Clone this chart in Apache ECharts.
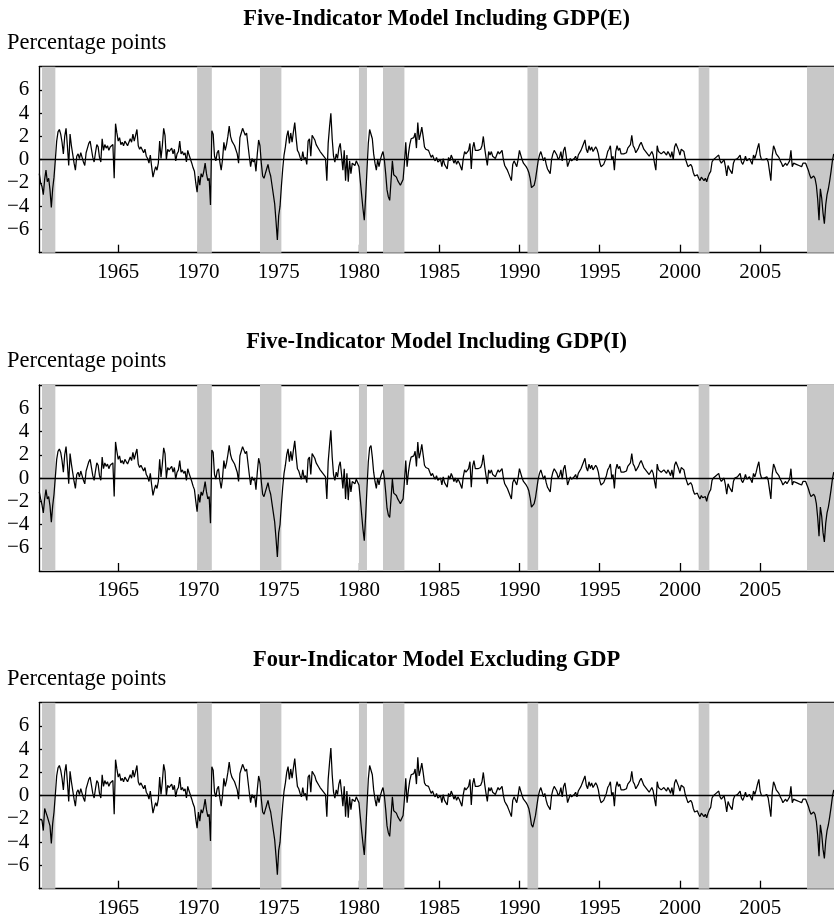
<!DOCTYPE html>
<html><head><meta charset="utf-8">
<script src="https://cdn.jsdelivr.net/npm/echarts@6/dist/echarts.min.js"></script>
<style>html,body{margin:0;padding:0;background:#fff}#c{width:834px;height:919px}</style>
</head><body><div id="c"></div>
<script>
// ---------- DATA ----------
const startYear = 1960, startMonth = 2; // first observation: Feb 1960, monthly
const panelTitles = ["Five-Indicator Model Including GDP(E)", "Five-Indicator Model Including GDP(I)", "Four-Indicator Model Excluding GDP"];
const unitLabel = "Percentage points";
const xTickYears = [1965, 1970, 1975, 1980, 1985, 1990, 1995, 2000, 2005];
const yTickValues = [-6, -4, -2, 0, 2, 4, 6];
const recessionStarts = [1960.25, 1969.917, 1973.833, 1980.0, 1981.5, 1990.5, 2001.167, 2007.917];
const recessionEnds   = [1961.083, 1970.833, 1975.167, 1980.5, 1982.833, 1991.167, 2001.833, 2009.6];

const gdpE = [
-1.2,-2.0,-2.3,-3.0,-1.7,-0.9,-1.9,-1.6,-2.6,-4.1,-2.5,
-1.5,0.0,1.6,2.4,2.6,2.2,1.5,0.5,2.0,2.7,1.2,-0.5,
2.2,1.2,1.1,-0.3,-0.9,0.3,0.5,0.1,0.6,0.2,-0.2,-0.5,
0.6,1.0,1.4,1.6,0.9,0.2,-0.2,0.6,1.3,1.1,0.2,-0.2,
1.8,0.8,1.3,1.0,1.2,0.8,1.1,1.0,1.3,-1.6,3.1,2.3,
1.6,1.9,1.3,1.5,1.2,1.6,1.4,1.2,1.5,1.8,1.5,2.2,
1.6,2.1,2.6,1.2,0.9,1.1,1.0,0.6,0.9,0.3,0.1,-0.3,
0.4,-0.6,-1.5,-1.0,-0.6,-0.9,-0.3,1.6,0.1,1.2,2.7,2.1,
0.0,0.9,0.7,0.8,1.0,0.5,0.9,-0.1,0.5,0.7,1.6,0.5,
0.7,0.4,0.6,-0.2,0.8,0.4,0.5,-0.3,-0.7,-1.0,-2.0,-2.8,
-1.4,-2.2,-1.2,-1.5,-1.0,-0.3,-1.2,-1.8,-1.6,-3.9,2.5,2.2,
0.3,-0.1,0.6,0.8,-0.2,-0.9,0.0,1.5,0.8,1.3,2.0,2.9,
2.0,1.6,1.5,1.2,1.2,0.5,-0.3,1.9,2.3,2.7,2.4,2.1,
2.3,2.2,0.3,-0.6,0.1,-0.2,0.0,-1.0,0.5,1.7,1.2,-0.3,
-1.4,-1.6,-1.2,-0.8,-0.4,-1.0,-1.4,-2.2,-2.1,-3.8,-5.3,-6.9,
-4.8,-4.0,-2.3,-0.8,0.4,1.1,2.0,2.5,1.4,2.3,1.5,2.4,
3.2,1.9,0.8,0.6,0.2,-0.1,0.7,0.0,0.2,-0.4,1.6,1.8,
0.3,2.1,2.2,1.7,1.3,1.2,0.9,0.7,0.8,0.4,0.3,0.1,
-1.8,1.4,2.8,4.0,1.8,0.3,-0.2,0.5,0.1,1.0,1.4,0.3,
-0.9,0.8,-1.8,0.4,-1.9,-0.1,-1.2,-0.3,-0.2,-0.5,-0.1,-0.1,
-0.6,-1.8,-3.0,-4.2,-5.2,-3.2,-0.9,1.4,2.6,2.7,1.8,0.5,
-0.3,-0.9,0.0,-0.6,0.0,0.4,0.7,0.0,-1.2,-2.6,-3.2,-3.5,
-3.6,-0.1,-1.3,-1.4,-1.5,-1.8,-2.0,-2.2,-2.2,-1.7,-0.3,1.5,
-0.6,0.5,1.3,1.8,1.8,1.9,2.3,1.0,3.2,1.7,2.2,2.8,
2.0,1.1,0.9,0.9,0.8,0.8,0.2,0.4,0.1,-0.1,0.2,-0.2,
-0.3,0.0,-0.6,0.1,-0.4,-0.5,-0.8,0.2,-0.1,0.4,0.1,-0.3,
0.0,-0.4,-0.1,-0.3,-0.6,-0.9,0.1,0.7,0.5,0.6,0.8,1.4,
-0.8,1.0,1.5,0.8,0.7,0.8,0.9,0.9,1.2,2.0,1.0,0.2,
-0.5,0.7,0.4,0.7,0.3,0.2,0.1,0.0,0.7,0.5,0.6,0.8,
0.0,-0.5,-0.7,-0.9,-1.2,-1.5,-1.8,-0.4,-0.1,-0.2,-0.6,0.0,
0.8,0.4,0.0,-0.3,-0.4,-0.6,-0.8,-1.1,-1.6,-2.4,-2.5,-2.2,
-1.7,-0.9,-0.1,0.4,0.7,0.6,-0.1,0.2,-0.4,-0.8,-0.9,-1.2,
0.0,0.5,0.8,0.6,0.4,0.0,0.2,0.7,-0.1,0.8,1.1,0.3,
-0.6,-0.6,0.1,-0.1,0.0,0.1,0.3,-0.1,0.4,0.4,0.8,1.1,
1.4,1.7,0.9,0.6,1.2,0.8,1.1,0.7,0.8,1.1,0.9,0.5,
-0.2,-0.6,-0.5,-0.4,-0.3,0.2,0.7,0.9,1.2,0.0,0.3,-0.9,
0.7,1.2,0.8,1.0,0.5,0.5,0.5,0.4,0.6,1.0,0.9,1.3,
2.1,1.2,1.0,0.6,0.7,1.0,1.3,1.5,1.2,0.9,0.8,0.6,
0.5,0.3,0.2,0.7,0.4,-0.3,-0.9,1.2,0.7,0.8,0.5,0.6,
0.7,0.8,0.4,0.7,0.5,0.2,0.7,0.0,1.1,1.4,1.3,0.8,
0.4,0.9,0.8,0.7,0.1,0.0,-0.6,-0.5,-0.4,-0.6,-1.1,-1.4,
-1.4,-1.3,-1.6,-1.8,-1.5,-1.6,-1.8,-1.6,-1.9,-1.5,-1.2,-1.0,
-0.2,0.0,0.1,0.2,0.3,0.4,-0.1,-0.3,-0.2,0.0,-0.6,-1.4,
-0.5,-0.8,-1.0,-1.2,-0.3,0.0,0.1,0.1,0.2,0.4,-0.2,-0.4,
-0.1,0.3,-0.1,-0.2,0.1,0.1,-0.4,0.4,0.1,0.5,1.0,1.4,
0.4,0.0,0.1,0.0,-0.1,0.1,-0.2,-0.3,-1.8,0.3,1.2,0.9,
0.5,0.4,0.2,-0.1,-0.3,-0.6,-0.5,-0.3,-0.5,-0.3,-0.1,0.8,
-0.6,-0.3,-0.2,-0.4,-0.3,-0.5,-0.4,-0.6,-0.3,-0.4,-0.3,-0.6,
-0.9,-1.3,-1.6,-1.5,-1.4,-1.6,-2.2,-3.4,-5.2,-2.5,-3.3,-4.6,
-5.5,-3.9,-3.0,-2.5,-1.8,-1.0,-0.1,0.5
];

const gdpI = [
-1.2,-1.8,-2.3,-3.0,-1.8,-1.0,-1.8,-1.6,-2.4,-3.8,-2.4,
-1.4,0.1,1.6,2.3,2.5,2.2,1.5,0.5,2.0,2.7,1.2,-0.5,
2.1,1.2,1.1,-0.3,-0.9,0.3,0.5,0.1,0.6,0.2,-0.2,-0.5,
0.6,1.0,1.4,1.6,0.9,0.2,-0.2,0.6,1.3,1.1,0.2,-0.2,
1.8,0.8,1.3,1.0,1.2,0.8,1.1,1.0,1.3,-1.6,3.1,2.3,
1.6,1.9,1.3,1.5,1.2,1.6,1.4,1.2,1.5,1.8,1.5,2.2,
1.6,2.1,2.5,1.2,0.9,1.1,1.0,0.6,0.9,0.3,0.1,-0.3,
0.4,-0.6,-1.5,-1.0,-0.6,-0.9,-0.3,1.6,0.1,1.2,2.6,2.1,
0.0,0.9,0.7,0.8,1.0,0.5,0.9,-0.1,0.5,0.7,1.5,0.5,
0.7,0.4,0.6,-0.2,0.8,0.4,0.5,-0.3,-0.7,-1.0,-2.0,-2.9,
-1.4,-2.1,-1.2,-1.5,-1.0,-0.3,-1.2,-1.8,-1.6,-3.9,2.4,2.2,
0.3,-0.1,0.6,0.8,-0.2,-0.9,0.0,1.5,0.8,1.3,2.0,2.8,
2.0,1.6,1.5,1.2,1.2,0.5,-0.3,1.9,2.3,2.7,2.4,2.1,
2.3,2.2,0.3,-0.6,0.1,-0.2,0.0,-1.0,0.5,1.7,1.2,-0.3,
-1.4,-1.6,-1.2,-0.8,-0.4,-1.0,-1.4,-2.2,-2.1,-3.8,-5.2,-6.8,
-4.7,-4.0,-2.3,-0.8,0.4,1.1,2.0,2.5,1.4,2.3,1.5,2.4,
3.2,1.9,0.8,0.6,0.2,-0.1,0.7,0.0,0.2,-0.4,1.6,1.8,
0.3,2.1,2.2,1.7,1.3,1.2,0.9,0.7,0.8,0.4,0.3,0.1,
-1.8,1.4,2.8,4.1,1.8,0.3,-0.2,0.5,0.1,1.0,1.4,0.3,
-0.9,0.8,-1.8,0.4,-1.9,-0.1,-1.2,-0.3,-0.2,-0.5,-0.1,-0.1,
-0.6,-1.8,-3.1,-4.4,-5.4,-3.3,-0.9,1.4,2.6,2.8,1.8,0.5,
-0.3,-0.9,0.0,-0.6,0.0,0.4,0.7,0.0,-1.2,-2.6,-3.2,-3.4,
-3.5,-0.1,-1.3,-1.4,-1.5,-1.8,-2.0,-2.2,-2.3,-1.8,-0.3,1.5,
-0.6,0.5,1.3,1.8,1.8,1.9,2.3,1.0,3.1,1.7,2.2,2.9,
2.0,1.1,0.9,0.9,0.8,0.8,0.2,0.4,0.1,-0.1,0.2,-0.2,
-0.3,0.0,-0.6,0.1,-0.4,-0.5,-0.8,0.2,-0.1,0.4,0.1,-0.3,
0.0,-0.4,-0.1,-0.3,-0.6,-0.9,0.1,0.7,0.5,0.6,0.8,1.4,
-0.8,1.0,1.5,0.8,0.7,0.8,0.9,0.9,1.2,2.0,1.0,0.2,
-0.5,0.7,0.4,0.7,0.3,0.2,0.1,0.0,0.7,0.5,0.6,0.8,
0.0,-0.5,-0.7,-0.9,-1.2,-1.5,-1.8,-0.4,-0.1,-0.2,-0.6,0.0,
0.8,0.4,0.0,-0.3,-0.4,-0.6,-0.8,-1.1,-1.7,-2.5,-2.6,-2.2,
-1.7,-0.9,-0.1,0.4,0.7,0.6,-0.1,0.2,-0.4,-0.8,-0.9,-1.2,
0.0,0.5,0.8,0.6,0.4,0.0,0.2,0.7,-0.1,0.8,1.1,0.3,
-0.6,-0.6,0.1,-0.1,0.0,0.1,0.3,-0.1,0.4,0.4,0.8,1.1,
1.4,1.7,0.9,0.6,1.2,0.8,1.1,0.7,0.8,1.1,0.9,0.5,
-0.2,-0.6,-0.5,-0.4,-0.3,0.2,0.7,0.9,1.2,0.0,0.3,-0.9,
0.7,1.2,0.8,1.0,0.5,0.5,0.5,0.4,0.6,1.0,0.9,1.3,
2.1,1.2,1.0,0.6,0.7,1.0,1.3,1.5,1.2,0.9,0.8,0.6,
0.5,0.3,0.2,0.7,0.4,-0.3,-0.9,1.2,0.7,0.8,0.5,0.6,
0.7,0.8,0.4,0.7,0.5,0.2,0.7,0.0,1.1,1.4,1.3,0.8,
0.4,0.9,0.8,0.7,0.1,0.0,-0.6,-0.5,-0.4,-0.6,-1.1,-1.4,
-1.4,-1.3,-1.6,-1.8,-1.5,-1.7,-1.8,-1.6,-2.0,-1.5,-1.2,-1.0,
-0.2,0.0,0.1,0.2,0.3,0.4,-0.1,-0.3,-0.2,0.0,-0.6,-1.4,
-0.5,-0.8,-1.0,-1.2,-0.3,0.0,0.1,0.1,0.2,0.4,-0.2,-0.4,
-0.1,0.3,-0.1,-0.2,0.1,0.1,-0.4,0.4,0.1,0.5,1.0,1.4,
0.4,0.0,0.1,0.0,-0.1,0.1,-0.2,-0.3,-1.8,0.3,1.2,0.9,
0.5,0.4,0.2,-0.1,-0.3,-0.6,-0.5,-0.3,-0.5,-0.3,-0.1,0.8,
-0.6,-0.3,-0.2,-0.4,-0.3,-0.5,-0.4,-0.6,-0.3,-0.4,-0.3,-0.6,
-0.9,-1.3,-1.6,-1.5,-1.4,-1.6,-2.2,-3.4,-5.0,-2.5,-3.3,-4.7,
-5.5,-3.9,-3.0,-2.5,-1.8,-1.0,-0.1,0.5
];

const noGdp = [
-2.0,-2.0,-2.1,-3.0,-1.1,-1.0,-1.8,-1.9,-2.6,-4.1,-2.4,
-1.4,0.1,1.7,2.4,2.6,2.2,1.5,0.5,2.0,2.7,1.2,-0.5,
2.1,1.2,1.1,-0.3,-0.9,0.3,0.5,0.1,0.6,0.2,-0.2,-0.5,
0.6,1.0,1.4,1.6,0.9,0.2,-0.2,0.6,1.3,1.1,0.2,-0.2,
1.8,0.8,1.3,1.0,1.2,0.8,1.1,1.0,1.3,-1.6,3.1,2.3,
1.6,1.9,1.3,1.5,1.2,1.6,1.4,1.2,1.5,1.8,1.5,2.2,
1.6,2.1,2.6,1.2,0.9,1.1,1.0,0.6,0.9,0.3,0.1,-0.3,
0.4,-0.6,-1.5,-1.0,-0.6,-0.9,-0.3,1.6,0.1,1.2,2.7,2.1,
0.0,0.9,0.7,0.8,1.0,0.5,0.9,-0.1,0.5,0.7,1.6,0.5,
0.7,0.4,0.6,-0.2,0.8,0.4,0.5,-0.3,-0.7,-1.0,-2.0,-2.8,
-1.4,-2.2,-1.2,-1.5,-1.0,-0.3,-1.2,-1.8,-1.6,-3.9,2.5,2.2,
0.3,-0.1,0.6,0.8,-0.2,-0.9,0.0,1.5,0.8,1.3,2.0,2.9,
2.0,1.6,1.5,1.2,1.2,0.5,-0.3,1.9,2.3,2.7,2.4,2.1,
2.3,2.2,0.3,-0.6,0.1,-0.2,0.0,-1.0,0.5,1.7,1.2,-0.3,
-1.4,-1.6,-1.2,-0.8,-0.4,-1.0,-1.4,-2.2,-2.1,-3.8,-5.2,-6.8,
-4.7,-4.0,-2.3,-0.8,0.4,1.1,2.0,2.5,1.4,2.3,1.5,2.4,
3.2,1.9,0.8,0.6,0.2,-0.1,0.7,0.0,0.2,-0.4,1.6,1.8,
0.3,2.1,2.2,1.7,1.3,1.2,0.9,0.7,0.8,0.4,0.3,0.1,
-1.8,1.4,2.8,4.1,1.8,0.3,-0.2,0.5,0.1,1.0,1.4,0.3,
-0.9,0.8,-1.8,0.4,-1.9,-0.1,-1.2,-0.3,-0.2,-0.5,-0.1,-0.1,
-0.6,-1.8,-3.0,-4.1,-5.1,-3.2,-0.9,1.4,2.6,2.7,1.8,0.5,
-0.3,-0.9,0.0,-0.6,0.0,0.4,0.7,0.0,-1.2,-2.6,-3.2,-3.5,
-3.6,-0.1,-1.3,-1.4,-1.5,-1.8,-2.0,-2.2,-2.2,-1.7,-0.3,1.5,
-0.6,0.5,1.3,1.8,1.8,1.9,2.3,1.0,3.3,1.7,2.2,2.8,
2.0,1.1,0.9,0.9,0.8,0.8,0.2,0.4,0.1,-0.1,0.2,-0.2,
-0.3,0.0,-0.6,0.1,-0.4,-0.5,-0.8,0.2,-0.1,0.4,0.1,-0.3,
0.0,-0.4,-0.1,-0.3,-0.6,-0.9,0.1,0.7,0.5,0.6,0.8,1.4,
-0.8,1.0,1.5,0.8,0.7,0.8,0.9,0.9,1.2,2.0,1.0,0.2,
-0.5,0.7,0.4,0.7,0.3,0.2,0.1,0.0,0.7,0.5,0.6,0.8,
0.0,-0.5,-0.7,-0.9,-1.2,-1.5,-1.8,-0.4,-0.1,-0.2,-0.6,0.0,
0.8,0.4,0.0,-0.3,-0.4,-0.6,-0.8,-1.1,-1.7,-2.5,-2.7,-2.2,
-1.7,-0.9,-0.1,0.4,0.7,0.6,-0.1,0.2,-0.4,-0.8,-0.9,-1.2,
0.0,0.5,0.8,0.6,0.4,0.0,0.2,0.7,-0.1,0.8,1.1,0.3,
-0.6,-0.6,0.1,-0.1,0.0,0.1,0.3,-0.1,0.4,0.4,0.8,1.1,
1.4,1.7,0.9,0.6,1.2,0.8,1.1,0.7,0.8,1.1,0.9,0.5,
-0.2,-0.6,-0.5,-0.4,-0.3,0.2,0.7,0.9,1.2,0.0,0.3,-0.9,
0.7,1.2,0.8,1.0,0.5,0.5,0.5,0.4,0.6,1.0,0.9,1.3,
2.1,1.2,1.0,0.6,0.7,1.0,1.3,1.5,1.2,0.9,0.8,0.6,
0.5,0.3,0.2,0.7,0.4,-0.3,-0.9,1.2,0.7,0.8,0.5,0.6,
0.7,0.8,0.4,0.7,0.5,0.2,0.7,0.0,1.1,1.4,1.3,0.8,
0.4,0.9,0.8,0.7,0.1,0.0,-0.6,-0.5,-0.4,-0.6,-1.1,-1.4,
-1.4,-1.3,-1.6,-1.8,-1.5,-1.6,-1.8,-1.6,-1.9,-1.5,-1.2,-1.0,
-0.2,0.0,0.1,0.2,0.3,0.4,-0.1,-0.3,-0.2,0.0,-0.6,-1.4,
-0.5,-0.8,-1.0,-1.2,-0.3,0.0,0.1,0.1,0.2,0.4,-0.2,-0.4,
-0.1,0.3,-0.1,-0.2,0.1,0.1,-0.4,0.4,0.1,0.5,1.0,1.4,
0.4,0.0,0.1,0.0,-0.1,0.1,-0.2,-0.3,-1.8,0.3,1.2,0.9,
0.5,0.4,0.2,-0.1,-0.3,-0.6,-0.5,-0.3,-0.5,-0.3,-0.1,0.8,
-0.6,-0.3,-0.2,-0.4,-0.3,-0.5,-0.4,-0.6,-0.3,-0.4,-0.3,-0.6,
-0.9,-1.3,-1.6,-1.5,-1.4,-1.6,-2.2,-3.4,-5.2,-2.5,-3.3,-4.6,
-5.4,-3.9,-3.0,-2.5,-1.8,-1.0,-0.1,0.5
];

// ---------- CHART ----------
const panels = [gdpE, gdpI, noGdp];
const FONT = '"Liberation Serif", "Times New Roman", serif';
const xMin = startYear + (startMonth - 1) / 12;
const xMax = 2009.6;
const gridTops = [66.7, 385, 702.7];
const titleYs = [19, 342, 660];
const gridH = 186, gridLeft = 39.3;
const black = '#000';

const toPairs = arr => arr.map((v, i) => [startYear + (startMonth - 1 + i) / 12, v]);
const fmtY = v => v < 0 ? '\u2212' + Math.abs(v) : String(v);
const fmtX = v => String(Math.round(v));

const grid = [], xAxis = [], yAxis = [], series = [], graphic = [];
panels.forEach((arr, p) => {
  grid.push({ left: gridLeft, right: 0, top: gridTops[p], height: gridH, containLabel: false });
  xAxis.push({
    gridIndex: p, type: 'value', min: xMin, max: xMax, position: 'bottom',
    axisLine: { show: true, onZero: false, lineStyle: { color: black, width: 1.3 } },
    axisTick: { show: true, inside: true, length: 8, customValues: xTickYears, lineStyle: { color: black, width: 1.3 } },
    axisLabel: { show: true, customValues: xTickYears, formatter: fmtX, color: black, fontFamily: FONT, fontSize: 21, margin: 9 },
    splitLine: { show: false }
  });
  xAxis.push({
    gridIndex: p, type: 'value', min: xMin, max: xMax, position: 'top',
    axisLine: { show: true, onZero: false, lineStyle: { color: black, width: 1.3 } },
    axisTick: { show: false }, axisLabel: { show: false }, splitLine: { show: false }
  });
  yAxis.push({
    gridIndex: p, type: 'value', min: -8, max: 8,
    axisLine: { show: true, onZero: false, lineStyle: { color: black, width: 1.3 } },
    axisTick: { show: true, inside: true, length: 7, customValues: yTickValues, lineStyle: { color: black, width: 1.3 } },
    axisLabel: { show: true, customValues: yTickValues, formatter: fmtY, color: black, fontFamily: FONT, fontSize: 21, margin: 10 },
    splitLine: { show: false }
  });
  series.push({
    type: 'line', xAxisIndex: 2 * p, yAxisIndex: p, data: toPairs(arr),
    showSymbol: false, symbol: 'none', smooth: false, sampling: null,
    lineStyle: { color: black, width: 1.25 }, silent: true, z: 3,
    markArea: {
      silent: true, itemStyle: { color: '#c8c8c8' },
      data: recessionStarts.map((s, i) => [{ xAxis: s }, { xAxis: recessionEnds[i] }])
    },
    markLine: {
      silent: true, symbol: 'none', label: { show: false }, animation: false,
      lineStyle: { color: black, width: 1.3, type: 'solid' },
      emphasis: { disabled: true },
      data: [{ yAxis: 0 }]
    }
  });
  graphic.push({
    type: 'text', x: gridLeft + (834 - gridLeft) / 2, y: titleYs[p],
    style: { text: panelTitles[p], font: 'bold 22.5px ' + FONT, fill: black, textAlign: 'center', textVerticalAlign: 'middle' }
  });
  graphic.push({
    type: 'text', x: 7, y: gridTops[p] - 24,
    style: { text: unitLabel, font: '22.5px ' + FONT, fill: black, textAlign: 'left', textVerticalAlign: 'middle' }
  });
});

const chart = echarts.init(document.getElementById('c'), null, { renderer: 'canvas' });
chart.setOption({ animation: false, backgroundColor: '#fff', grid, xAxis, yAxis, series, graphic });
</script></body></html>
